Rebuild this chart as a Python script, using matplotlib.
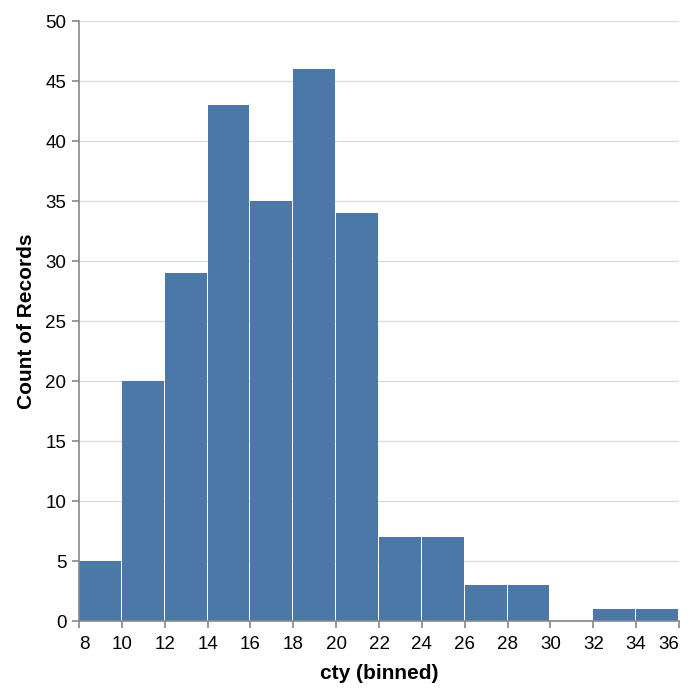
import numpy as np
import matplotlib.pyplot as plt

# histogram of city mpg, bins of width 2
bin_starts = np.arange(8, 36, 2)
counts = [5, 20, 29, 43, 35, 46, 34, 7, 7, 3, 3, 0, 1, 1]
x_ticks = list(range(8, 37, 2))
y_ticks = list(range(0, 51, 5))

plt.rcParams['font.family'] = ['Liberation Sans', 'DejaVu Sans']

fig = plt.figure(figsize=(6.9, 6.94), dpi=100)
ax = fig.add_axes([79 / 690, 73 / 694, 600 / 690, 600 / 694])

# one pixel gap between bars, like vega's binSpacing
px = 28 / 600
ax.bar(bin_starts, counts, width=2 - px, align='edge', color='#4c78a8', zorder=2)

ax.set_xlim(8, 36)
ax.set_ylim(0, 50)
ax.set_xticks(x_ticks)
ax.set_yticks(y_ticks)
ax.grid(axis='y', color='#dddddd', linewidth=1, zorder=0)
ax.set_axisbelow(True)

for s in ['top', 'right']:
    ax.spines[s].set_visible(False)
for s in ['left', 'bottom']:
    ax.spines[s].set_color('#888888')
    ax.spines[s].set_linewidth(1.2)
    ax.spines[s].set_zorder(3)

ax.tick_params(axis='both', length=5, width=1.2, color='#888888',
               labelsize=13.5, labelcolor='black')
ax.tick_params(axis='x', pad=6)
ax.tick_params(axis='y', pad=4)

# flush first/last x labels like vega
xlabels = ax.get_xticklabels()
xlabels[0].set_horizontalalignment('left')
xlabels[-1].set_horizontalalignment('right')

ax.set_xlabel('cty (binned)', fontsize=15, fontweight='bold', labelpad=8)
ax.set_ylabel('Count of Records', fontsize=15, fontweight='bold', labelpad=7)

fig.savefig('out.png', dpi=100)
